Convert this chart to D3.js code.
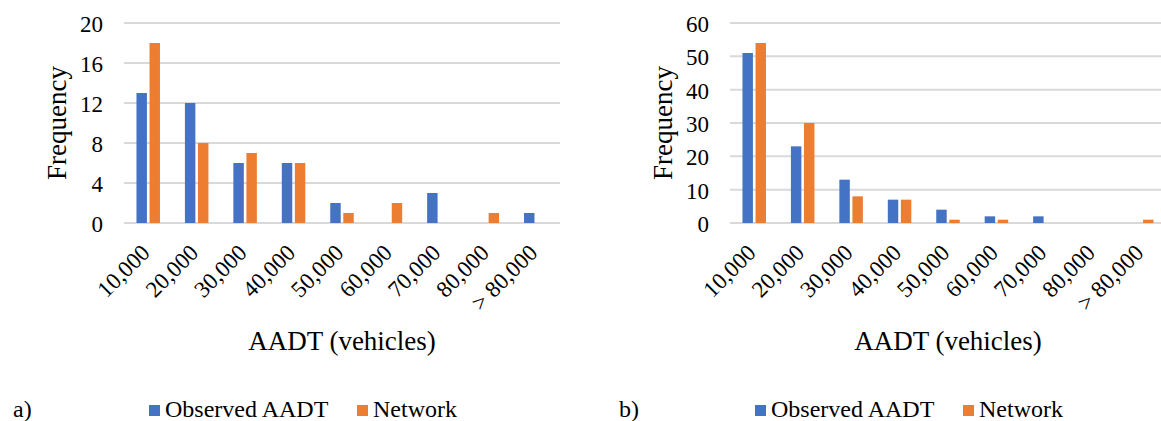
<!DOCTYPE html>
<html>
<head>
<meta charset="utf-8">
<script src="https://cdn.jsdelivr.net/npm/d3@7"></script>
<style>
  body { margin: 0; background: #fff; }
  text { font-family: "Liberation Serif", "Times New Roman", serif; fill: #000; }
</style>
</head>
<body>
<div id="chart"></div>
<script>
// 数据
const categories = ['10,000', '20,000', '30,000', '40,000', '50,000', '60,000', '70,000', '80,000', '> 80,000'];
const seriesNames = ['Observed AADT', 'Network'];
const colors = ['#4472C4', '#ED7D31'];

const observedA = [13, 12, 6, 6, 2, 0, 3, 0, 1];
const networkA = [18, 8, 7, 6, 1, 2, 0, 1, 0];
const ticksA = [0, 4, 8, 12, 16, 20];

const observedB = [51, 23, 13, 7, 4, 2, 2, 0, 0];
const networkB = [54, 30, 8, 7, 1, 1, 0, 0, 1];
const ticksB = [0, 10, 20, 30, 40, 50, 60];

const W = 1161, H = 421;
const svg = d3.select('#chart').append('svg')
  .attr('width', W)
  .attr('height', H);

function drawPanel(left, tag, obs, net, ticks) {
  const plotW = 436;
  const top = 23, bottom = 223;
  const g = svg.append('g');

  const x = d3.scaleBand().domain(categories).range([left, left + plotW]).padding(0);
  const y = d3.scaleLinear().domain([0, d3.max(ticks)]).range([bottom, top]);
  const sub = d3.scaleBand().domain(seriesNames)
    .range([x.bandwidth() / 2 - 11.75, x.bandwidth() / 2 + 11.75])
    .paddingInner(0.2);

  // 网格线
  g.selectAll('.grid').data(ticks).enter().append('line')
    .attr('x1', left).attr('x2', left + plotW)
    .attr('y1', d => y(d)).attr('y2', d => y(d))
    .style('stroke', '#d9d9d9')
    .style('stroke-width', 2);

  // y 轴刻度
  g.selectAll('.ytick').data(ticks).enter().append('text')
    .attr('x', left - 21)
    .attr('y', d => y(d) + 1)
    .attr('dy', '0.35em')
    .style('text-anchor', 'end')
    .style('font-size', '23px')
    .text(d => d);

  // 柱子
  const rows = categories.map((c, i) => ({ c, vals: [obs[i], net[i]] }));
  rows.forEach(r => {
    r.vals.forEach((v, k) => {
      if (v <= 0) return;
      g.append('rect')
        .attr('x', x(r.c) + sub(seriesNames[k]))
        .attr('width', sub.bandwidth())
        .attr('y', y(v))
        .attr('height', y(0) - y(v))
        .style('fill', colors[k]);
    });
  });

  // x 轴刻度 (旋转)
  g.selectAll('.xtick').data(categories).enter().append('text')
    .attr('transform', d => `translate(${x(d) + x.bandwidth() / 2 + 3},${254}) rotate(-45)`)
    .style('text-anchor', 'end')
    .style('font-size', '23px')
    .text(d => d);

  // 轴标题
  g.append('text')
    .attr('x', left + plotW / 2)
    .attr('y', 350)
    .style('text-anchor', 'middle')
    .style('font-size', '27px')
    .text('AADT (vehicles)');

  g.append('text')
    .attr('transform', `translate(${left - 58},${(top + bottom) / 2}) rotate(-90)`)
    .style('text-anchor', 'middle')
    .style('font-size', '27px')
    .text('Frequency');

  // 图例
  g.append('text')
    .attr('x', left - 111)
    .attr('y', 417)
    .style('font-size', '24px')
    .text(tag);

  const legX = [left + 25, left + 233];
  seriesNames.forEach((s, k) => {
    g.append('rect')
      .attr('x', legX[k]).attr('y', 405)
      .attr('width', 11).attr('height', 11)
      .style('fill', colors[k]);
    g.append('text')
      .attr('x', legX[k] + 16)
      .attr('y', 417)
      .style('font-size', '24px')
      .text(s);
  });
}

drawPanel(124, 'a)', observedA, networkA, ticksA);
drawPanel(730, 'b)', observedB, networkB, ticksB);
</script>
</body>
</html>
